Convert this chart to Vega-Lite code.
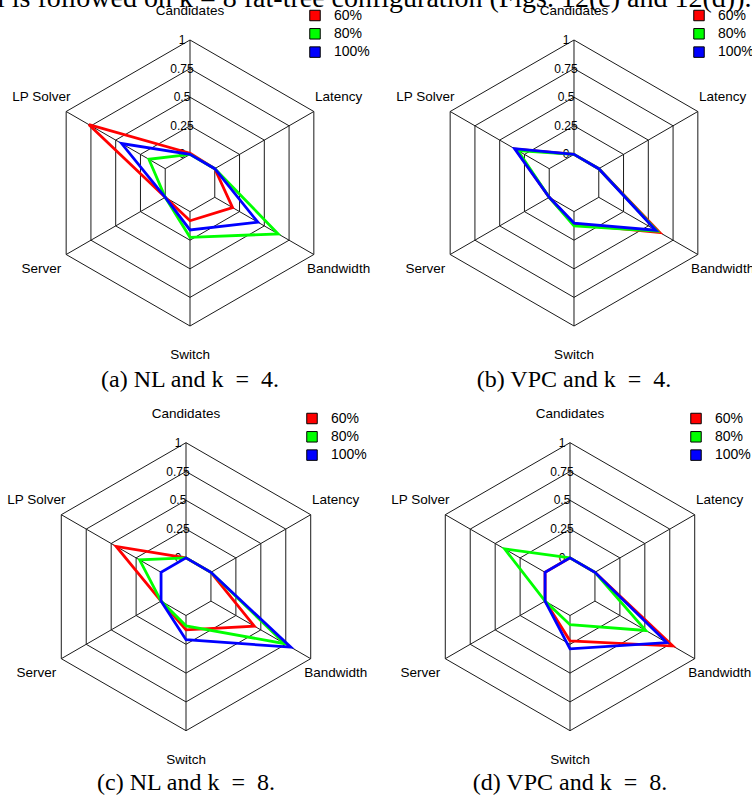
{
  "$schema": "https://vega.github.io/schema/vega-lite/v6.json",
  "padding": 0,
  "bounds": "flush",
  "spacing": 0,
  "columns": 2,
  "config": {
    "view": {"stroke": null},
    "text": {"font": "Liberation Sans", "color": "black"},
    "legend": {
      "orient": "none",
      "symbolType": "square",
      "symbolSize": 110,
      "symbolStrokeWidth": 1,
      "symbolOpacity": 1,
      "labelFont": "Liberation Sans",
      "labelFontSize": 14,
      "labelColor": "black",
      "labelOffset": 12,
      "rowPadding": 2.3,
      "padding": 0
    }
  },
  "resolve": {"scale": {"fill": "independent", "stroke": "independent"}, "legend": {"fill": "independent", "stroke": "independent"}},
  "datasets": {
    "axes": [
      {"axis": "Candidates", "level": [0, 0.25, 0.5, 0.75, 1]},
      {"axis": "Latency", "level": [0, 0.25, 0.5, 0.75, 1]},
      {"axis": "Bandwidth", "level": [0, 0.25, 0.5, 0.75, 1]},
      {"axis": "Switch", "level": [0, 0.25, 0.5, 0.75, 1]},
      {"axis": "Server", "level": [0, 0.25, 0.5, 0.75, 1]},
      {"axis": "LP Solver", "level": [0, 0.25, 0.5, 0.75, 1]}
    ],
    "captions": [
      {"p": "a", "caption": "(a) NL and k\u2002=\u20024."},
      {"p": "b", "caption": "(b) VPC and k\u2002=\u20024."},
      {"p": "c", "caption": "(c) NL and k\u2002=\u20028."},
      {"p": "d", "caption": "(d) VPC and k\u2002=\u20028."}
    ],
    "header": [
      {"text": "l is followed on k = 8 fat-tree configuration (Figs. 12(c) and 12(d))."}
    ],
    "series": [
      {"s": "60%"}, {"s": "80%"}, {"s": "100%"}
    ],
    "scores": [
      {"p": "a", "s": "60%", "a": "Candidates", "v": 0.01},
      {"p": "a", "s": "60%", "a": "Latency", "v": 0},
      {"p": "a", "s": "60%", "a": "Bandwidth", "v": 0.18},
      {"p": "a", "s": "60%", "a": "Switch", "v": 0.08},
      {"p": "a", "s": "60%", "a": "Server", "v": 0},
      {"p": "a", "s": "60%", "a": "LP Solver", "v": 0.77},
      {"p": "a", "s": "80%", "a": "Candidates", "v": 0},
      {"p": "a", "s": "80%", "a": "Latency", "v": 0},
      {"p": "a", "s": "80%", "a": "Bandwidth", "v": 0.64},
      {"p": "a", "s": "80%", "a": "Switch", "v": 0.225},
      {"p": "a", "s": "80%", "a": "Server", "v": 0},
      {"p": "a", "s": "80%", "a": "LP Solver", "v": 0.165},
      {"p": "a", "s": "100%", "a": "Candidates", "v": 0},
      {"p": "a", "s": "100%", "a": "Latency", "v": 0},
      {"p": "a", "s": "100%", "a": "Bandwidth", "v": 0.435},
      {"p": "a", "s": "100%", "a": "Switch", "v": 0.16},
      {"p": "a", "s": "100%", "a": "Server", "v": 0},
      {"p": "a", "s": "100%", "a": "LP Solver", "v": 0.44},
      {"p": "b", "s": "60%", "a": "Candidates", "v": 0},
      {"p": "b", "s": "60%", "a": "Latency", "v": 0},
      {"p": "b", "s": "60%", "a": "Bandwidth", "v": 0.615},
      {"p": "b", "s": "60%", "a": "Switch", "v": 0.11},
      {"p": "b", "s": "60%", "a": "Server", "v": 0},
      {"p": "b", "s": "60%", "a": "LP Solver", "v": 0.34},
      {"p": "b", "s": "80%", "a": "Candidates", "v": 0},
      {"p": "b", "s": "80%", "a": "Latency", "v": 0},
      {"p": "b", "s": "80%", "a": "Bandwidth", "v": 0.59},
      {"p": "b", "s": "80%", "a": "Switch", "v": 0.125},
      {"p": "b", "s": "80%", "a": "Server", "v": 0},
      {"p": "b", "s": "80%", "a": "LP Solver", "v": 0.315},
      {"p": "b", "s": "100%", "a": "Candidates", "v": 0},
      {"p": "b", "s": "100%", "a": "Latency", "v": 0},
      {"p": "b", "s": "100%", "a": "Bandwidth", "v": 0.575},
      {"p": "b", "s": "100%", "a": "Switch", "v": 0.1},
      {"p": "b", "s": "100%", "a": "Server", "v": 0},
      {"p": "b", "s": "100%", "a": "LP Solver", "v": 0.35},
      {"p": "c", "s": "60%", "a": "Candidates", "v": 0},
      {"p": "c", "s": "60%", "a": "Latency", "v": 0},
      {"p": "c", "s": "60%", "a": "Bandwidth", "v": 0.435},
      {"p": "c", "s": "60%", "a": "Switch", "v": 0.125},
      {"p": "c", "s": "60%", "a": "Server", "v": 0},
      {"p": "c", "s": "60%", "a": "LP Solver", "v": 0.45},
      {"p": "c", "s": "80%", "a": "Candidates", "v": 0},
      {"p": "c", "s": "80%", "a": "Latency", "v": 0},
      {"p": "c", "s": "80%", "a": "Bandwidth", "v": 0.74},
      {"p": "c", "s": "80%", "a": "Switch", "v": 0.09},
      {"p": "c", "s": "80%", "a": "Server", "v": 0},
      {"p": "c", "s": "80%", "a": "LP Solver", "v": 0.215},
      {"p": "c", "s": "100%", "a": "Candidates", "v": 0},
      {"p": "c", "s": "100%", "a": "Latency", "v": 0},
      {"p": "c", "s": "100%", "a": "Bandwidth", "v": 0.8},
      {"p": "c", "s": "100%", "a": "Switch", "v": 0.21},
      {"p": "c", "s": "100%", "a": "Server", "v": 0},
      {"p": "c", "s": "100%", "a": "LP Solver", "v": 0},
      {"p": "d", "s": "60%", "a": "Candidates", "v": 0},
      {"p": "d", "s": "60%", "a": "Latency", "v": 0},
      {"p": "d", "s": "60%", "a": "Bandwidth", "v": 0.78},
      {"p": "d", "s": "60%", "a": "Switch", "v": 0.22},
      {"p": "d", "s": "60%", "a": "Server", "v": 0},
      {"p": "d", "s": "60%", "a": "LP Solver", "v": 0},
      {"p": "d", "s": "80%", "a": "Candidates", "v": 0},
      {"p": "d", "s": "80%", "a": "Latency", "v": 0},
      {"p": "d", "s": "80%", "a": "Bandwidth", "v": 0.51},
      {"p": "d", "s": "80%", "a": "Switch", "v": 0.08},
      {"p": "d", "s": "80%", "a": "Server", "v": 0},
      {"p": "d", "s": "80%", "a": "LP Solver", "v": 0.405},
      {"p": "d", "s": "100%", "a": "Candidates", "v": 0},
      {"p": "d", "s": "100%", "a": "Latency", "v": 0},
      {"p": "d", "s": "100%", "a": "Bandwidth", "v": 0.72},
      {"p": "d", "s": "100%", "a": "Switch", "v": 0.29},
      {"p": "d", "s": "100%", "a": "Server", "v": 0},
      {"p": "d", "s": "100%", "a": "LP Solver", "v": 0}
    ]
  },
  "concat": [
    {
      "width": 384,
      "height": 404,
      "layer": [
        {
          "data": {"name": "axes"},
          "transform": [
            {"flatten": ["level"]},
            {"calculate": "indexof(['Candidates','Latency','Bandwidth','Switch','Server','LP Solver'], datum.axis)", "as": "i"},
            {"calculate": "(datum.level + 0.25) / 1.25 * cos(PI / 2 - datum.i * PI / 3)", "as": "x"},
            {"calculate": "(datum.level + 0.25) / 1.25 * sin(PI / 2 - datum.i * PI / 3)", "as": "y"}
          ],
          "mark": {"type": "line", "interpolate": "linear-closed", "color": "#1a1a1a", "strokeWidth": 1},
          "encoding": {
            "x": {"field": "x", "type": "quantitative", "axis": null, "scale": {"domain": [-1.32867, 1.35664], "nice": false, "zero": false}},
            "y": {"field": "y", "type": "quantitative", "axis": null, "scale": {"domain": [-1.54545, 1.27972], "nice": false, "zero": false}},
            "detail": {"field": "level", "type": "nominal"},
            "order": {"field": "i", "type": "quantitative"}
          }
        },
        {
          "data": {"name": "axes"},
          "transform": [
            {"calculate": "indexof(['Candidates','Latency','Bandwidth','Switch','Server','LP Solver'], datum.axis)", "as": "i"},
            {"calculate": "0.2 * cos(PI / 2 - datum.i * PI / 3)", "as": "x"},
            {"calculate": "0.2 * sin(PI / 2 - datum.i * PI / 3)", "as": "y"},
            {"calculate": "cos(PI / 2 - datum.i * PI / 3)", "as": "x2"},
            {"calculate": "sin(PI / 2 - datum.i * PI / 3)", "as": "y2"}
          ],
          "mark": {"type": "rule", "color": "#1a1a1a", "strokeWidth": 1},
          "encoding": {
            "x": {"field": "x", "type": "quantitative"},
            "y": {"field": "y", "type": "quantitative"},
            "x2": {"field": "x2"},
            "y2": {"field": "y2"}
          }
        },
        {
          "data": {"name": "axes"},
          "transform": [
            {"filter": "datum.axis === 'Candidates'"},
            {"flatten": ["level"]},
            {"calculate": "0", "as": "x"},
            {"calculate": "(datum.level + 0.25) / 1.25", "as": "y"}
          ],
          "mark": {"type": "text", "fontSize": 12, "align": "center", "baseline": "middle", "dx": -8},
          "encoding": {
            "x": {"field": "x", "type": "quantitative"},
            "y": {"field": "y", "type": "quantitative"},
            "text": {"field": "level", "type": "nominal"}
          }
        },
        {
          "data": {"name": "axes"},
          "transform": [
            {"calculate": "indexof(['Candidates','Latency','Bandwidth','Switch','Server','LP Solver'], datum.axis)", "as": "i"},
            {"calculate": "1.2 * cos(PI / 2 - datum.i * PI / 3)", "as": "x"},
            {"calculate": "1.2 * sin(PI / 2 - datum.i * PI / 3)", "as": "y"}
          ],
          "mark": {"type": "text", "fontSize": 13.5, "align": "center", "baseline": "middle"},
          "encoding": {
            "x": {"field": "x", "type": "quantitative"},
            "y": {"field": "y", "type": "quantitative"},
            "text": {"field": "axis", "type": "nominal"}
          }
        },
        {
          "data": {"name": "scores"},
          "transform": [
            {"filter": "datum.p === 'a'"},
            {"calculate": "indexof(['Candidates','Latency','Bandwidth','Switch','Server','LP Solver'], datum.a)", "as": "i"},
            {"calculate": "(datum.v + 0.25) / 1.25 * cos(PI / 2 - datum.i * PI / 3)", "as": "x"},
            {"calculate": "(datum.v + 0.25) / 1.25 * sin(PI / 2 - datum.i * PI / 3)", "as": "y"}
          ],
          "mark": {"type": "line", "interpolate": "linear-closed", "strokeWidth": 2.8},
          "encoding": {
            "x": {"field": "x", "type": "quantitative"},
            "y": {"field": "y", "type": "quantitative"},
            "stroke": {"field": "s", "type": "nominal", "scale": {"domain": ["100%", "60%", "80%"], "range": ["#0000ff", "#ff0000", "#00ff00"]}, "legend": null},
            "order": {"field": "i", "type": "quantitative"}
          }
        },
        {
          "data": {"name": "series"},
          "transform": [{"filter": "datum.s === 'none'"}],
          "mark": {"type": "square", "filled": true, "opacity": 1, "stroke": "black", "strokeWidth": 1},
          "encoding": {
            "fill": {"field": "s", "type": "nominal", "scale": {"domain": ["60%", "80%", "100%"], "range": ["#ff0000", "#00ff00", "#0000ff"]}, "legend": {"title": null, "legendX": 308, "legendY": 8.5}}
          }
        },
        {
          "data": {"name": "captions"},
          "transform": [{"filter": "datum.p === 'a'"}],
          "mark": {"type": "text", "font": "Liberation Serif", "fontSize": 24, "align": "center", "baseline": "alphabetic"},
          "encoding": {
            "x": {"datum": 0, "type": "quantitative"},
            "y": {"datum": -1.42448, "type": "quantitative"},
            "text": {"field": "caption", "type": "nominal"}
          }
        },
        {
          "data": {"name": "header"},
          "mark": {"type": "text", "font": "Liberation Serif", "fontSize": 28, "align": "left", "baseline": "alphabetic", "clip": true},
          "encoding": {
            "x": {"datum": -1.34965, "type": "quantitative"},
            "y": {"datum": 1.23077, "type": "quantitative"},
            "text": {"field": "text", "type": "nominal"}
          }
        }
      ]
    },
    {
      "width": 368,
      "height": 404,
      "layer": [
        {
          "data": {"name": "axes"},
          "transform": [
            {"flatten": ["level"]},
            {"calculate": "indexof(['Candidates','Latency','Bandwidth','Switch','Server','LP Solver'], datum.axis)", "as": "i"},
            {"calculate": "(datum.level + 0.25) / 1.25 * cos(PI / 2 - datum.i * PI / 3)", "as": "x"},
            {"calculate": "(datum.level + 0.25) / 1.25 * sin(PI / 2 - datum.i * PI / 3)", "as": "y"}
          ],
          "mark": {"type": "line", "interpolate": "linear-closed", "color": "#1a1a1a", "strokeWidth": 1},
          "encoding": {
            "x": {"field": "x", "type": "quantitative", "axis": null, "scale": {"domain": [-1.32867, 1.24476], "nice": false, "zero": false}},
            "y": {"field": "y", "type": "quantitative", "axis": null, "scale": {"domain": [-1.54545, 1.27972], "nice": false, "zero": false}},
            "detail": {"field": "level", "type": "nominal"},
            "order": {"field": "i", "type": "quantitative"}
          }
        },
        {
          "data": {"name": "axes"},
          "transform": [
            {"calculate": "indexof(['Candidates','Latency','Bandwidth','Switch','Server','LP Solver'], datum.axis)", "as": "i"},
            {"calculate": "0.2 * cos(PI / 2 - datum.i * PI / 3)", "as": "x"},
            {"calculate": "0.2 * sin(PI / 2 - datum.i * PI / 3)", "as": "y"},
            {"calculate": "cos(PI / 2 - datum.i * PI / 3)", "as": "x2"},
            {"calculate": "sin(PI / 2 - datum.i * PI / 3)", "as": "y2"}
          ],
          "mark": {"type": "rule", "color": "#1a1a1a", "strokeWidth": 1},
          "encoding": {
            "x": {"field": "x", "type": "quantitative"},
            "y": {"field": "y", "type": "quantitative"},
            "x2": {"field": "x2"},
            "y2": {"field": "y2"}
          }
        },
        {
          "data": {"name": "axes"},
          "transform": [
            {"filter": "datum.axis === 'Candidates'"},
            {"flatten": ["level"]},
            {"calculate": "0", "as": "x"},
            {"calculate": "(datum.level + 0.25) / 1.25", "as": "y"}
          ],
          "mark": {"type": "text", "fontSize": 12, "align": "center", "baseline": "middle", "dx": -8},
          "encoding": {
            "x": {"field": "x", "type": "quantitative"},
            "y": {"field": "y", "type": "quantitative"},
            "text": {"field": "level", "type": "nominal"}
          }
        },
        {
          "data": {"name": "axes"},
          "transform": [
            {"calculate": "indexof(['Candidates','Latency','Bandwidth','Switch','Server','LP Solver'], datum.axis)", "as": "i"},
            {"calculate": "1.2 * cos(PI / 2 - datum.i * PI / 3)", "as": "x"},
            {"calculate": "1.2 * sin(PI / 2 - datum.i * PI / 3)", "as": "y"}
          ],
          "mark": {"type": "text", "fontSize": 13.5, "align": "center", "baseline": "middle", "clip": true},
          "encoding": {
            "x": {"field": "x", "type": "quantitative"},
            "y": {"field": "y", "type": "quantitative"},
            "text": {"field": "axis", "type": "nominal"}
          }
        },
        {
          "data": {"name": "scores"},
          "transform": [
            {"filter": "datum.p === 'b'"},
            {"calculate": "indexof(['Candidates','Latency','Bandwidth','Switch','Server','LP Solver'], datum.a)", "as": "i"},
            {"calculate": "(datum.v + 0.25) / 1.25 * cos(PI / 2 - datum.i * PI / 3)", "as": "x"},
            {"calculate": "(datum.v + 0.25) / 1.25 * sin(PI / 2 - datum.i * PI / 3)", "as": "y"}
          ],
          "mark": {"type": "line", "interpolate": "linear-closed", "strokeWidth": 2.8},
          "encoding": {
            "x": {"field": "x", "type": "quantitative"},
            "y": {"field": "y", "type": "quantitative"},
            "stroke": {"field": "s", "type": "nominal", "scale": {"domain": ["100%", "60%", "80%"], "range": ["#0000ff", "#ff0000", "#00ff00"]}, "legend": null},
            "order": {"field": "i", "type": "quantitative"}
          }
        },
        {
          "data": {"name": "series"},
          "transform": [{"filter": "datum.s === 'none'"}],
          "mark": {"type": "square", "filled": true, "opacity": 1, "stroke": "black", "strokeWidth": 1},
          "encoding": {
            "fill": {"field": "s", "type": "nominal", "scale": {"domain": ["60%", "80%", "100%"], "range": ["#ff0000", "#00ff00", "#0000ff"]}, "legend": {"title": null, "legendX": 308, "legendY": 8.5}}
          }
        },
        {
          "data": {"name": "captions"},
          "transform": [{"filter": "datum.p === 'b'"}],
          "mark": {"type": "text", "font": "Liberation Serif", "fontSize": 24, "align": "center", "baseline": "alphabetic"},
          "encoding": {
            "x": {"datum": 0, "type": "quantitative"},
            "y": {"datum": -1.42448, "type": "quantitative"},
            "text": {"field": "caption", "type": "nominal"}
          }
        },
        {
          "data": {"name": "header"},
          "mark": {"type": "text", "font": "Liberation Serif", "fontSize": 28, "align": "left", "baseline": "alphabetic", "clip": true},
          "encoding": {
            "x": {"datum": -4.03497, "type": "quantitative"},
            "y": {"datum": 1.23077, "type": "quantitative"},
            "text": {"field": "text", "type": "nominal"}
          }
        }
      ]
    },
    {
      "width": 384,
      "height": 394,
      "layer": [
        {
          "data": {"name": "axes"},
          "transform": [
            {"flatten": ["level"]},
            {"calculate": "indexof(['Candidates','Latency','Bandwidth','Switch','Server','LP Solver'], datum.axis)", "as": "i"},
            {"calculate": "(datum.level + 0.25) / 1.25 * cos(PI / 2 - datum.i * PI / 3)", "as": "x"},
            {"calculate": "(datum.level + 0.25) / 1.25 * sin(PI / 2 - datum.i * PI / 3)", "as": "y"}
          ],
          "mark": {"type": "line", "interpolate": "linear-closed", "color": "#1a1a1a", "strokeWidth": 1},
          "encoding": {
            "x": {"field": "x", "type": "quantitative", "axis": null, "scale": {"domain": [-1.29167, 1.375], "nice": false, "zero": false}},
            "y": {"field": "y", "type": "quantitative", "axis": null, "scale": {"domain": [-1.46736, 1.26875], "nice": false, "zero": false}},
            "detail": {"field": "level", "type": "nominal"},
            "order": {"field": "i", "type": "quantitative"}
          }
        },
        {
          "data": {"name": "axes"},
          "transform": [
            {"calculate": "indexof(['Candidates','Latency','Bandwidth','Switch','Server','LP Solver'], datum.axis)", "as": "i"},
            {"calculate": "0.2 * cos(PI / 2 - datum.i * PI / 3)", "as": "x"},
            {"calculate": "0.2 * sin(PI / 2 - datum.i * PI / 3)", "as": "y"},
            {"calculate": "cos(PI / 2 - datum.i * PI / 3)", "as": "x2"},
            {"calculate": "sin(PI / 2 - datum.i * PI / 3)", "as": "y2"}
          ],
          "mark": {"type": "rule", "color": "#1a1a1a", "strokeWidth": 1},
          "encoding": {
            "x": {"field": "x", "type": "quantitative"},
            "y": {"field": "y", "type": "quantitative"},
            "x2": {"field": "x2"},
            "y2": {"field": "y2"}
          }
        },
        {
          "data": {"name": "axes"},
          "transform": [
            {"filter": "datum.axis === 'Candidates'"},
            {"flatten": ["level"]},
            {"calculate": "0", "as": "x"},
            {"calculate": "(datum.level + 0.25) / 1.25", "as": "y"}
          ],
          "mark": {"type": "text", "fontSize": 12, "align": "center", "baseline": "middle", "dx": -8},
          "encoding": {
            "x": {"field": "x", "type": "quantitative"},
            "y": {"field": "y", "type": "quantitative"},
            "text": {"field": "level", "type": "nominal"}
          }
        },
        {
          "data": {"name": "axes"},
          "transform": [
            {"calculate": "indexof(['Candidates','Latency','Bandwidth','Switch','Server','LP Solver'], datum.axis)", "as": "i"},
            {"calculate": "1.2 * cos(PI / 2 - datum.i * PI / 3)", "as": "x"},
            {"calculate": "1.2 * sin(PI / 2 - datum.i * PI / 3)", "as": "y"}
          ],
          "mark": {"type": "text", "fontSize": 13.5, "align": "center", "baseline": "middle"},
          "encoding": {
            "x": {"field": "x", "type": "quantitative"},
            "y": {"field": "y", "type": "quantitative"},
            "text": {"field": "axis", "type": "nominal"}
          }
        },
        {
          "data": {"name": "scores"},
          "transform": [
            {"filter": "datum.p === 'c'"},
            {"calculate": "indexof(['Candidates','Latency','Bandwidth','Switch','Server','LP Solver'], datum.a)", "as": "i"},
            {"calculate": "(datum.v + 0.25) / 1.25 * cos(PI / 2 - datum.i * PI / 3)", "as": "x"},
            {"calculate": "(datum.v + 0.25) / 1.25 * sin(PI / 2 - datum.i * PI / 3)", "as": "y"}
          ],
          "mark": {"type": "line", "interpolate": "linear-closed", "strokeWidth": 2.8},
          "encoding": {
            "x": {"field": "x", "type": "quantitative"},
            "y": {"field": "y", "type": "quantitative"},
            "stroke": {"field": "s", "type": "nominal", "scale": {"domain": ["100%", "60%", "80%"], "range": ["#0000ff", "#ff0000", "#00ff00"]}, "legend": null},
            "order": {"field": "i", "type": "quantitative"}
          }
        },
        {
          "data": {"name": "series"},
          "transform": [{"filter": "datum.s === 'none'"}],
          "mark": {"type": "square", "filled": true, "opacity": 1, "stroke": "black", "strokeWidth": 1},
          "encoding": {
            "fill": {"field": "s", "type": "nominal", "scale": {"domain": ["60%", "80%", "100%"], "range": ["#ff0000", "#00ff00", "#0000ff"]}, "legend": {"title": null, "legendX": 305, "legendY": 7.5}}
          }
        },
        {
          "data": {"name": "captions"},
          "transform": [{"filter": "datum.p === 'c'"}],
          "mark": {"type": "text", "font": "Liberation Serif", "fontSize": 24, "align": "center", "baseline": "alphabetic"},
          "encoding": {
            "x": {"datum": 0, "type": "quantitative"},
            "y": {"datum": -1.41181, "type": "quantitative"},
            "text": {"field": "caption", "type": "nominal"}
          }
        }
      ]
    },
    {
      "width": 368,
      "height": 394,
      "layer": [
        {
          "data": {"name": "axes"},
          "transform": [
            {"flatten": ["level"]},
            {"calculate": "indexof(['Candidates','Latency','Bandwidth','Switch','Server','LP Solver'], datum.axis)", "as": "i"},
            {"calculate": "(datum.level + 0.25) / 1.25 * cos(PI / 2 - datum.i * PI / 3)", "as": "x"},
            {"calculate": "(datum.level + 0.25) / 1.25 * sin(PI / 2 - datum.i * PI / 3)", "as": "y"}
          ],
          "mark": {"type": "line", "interpolate": "linear-closed", "color": "#1a1a1a", "strokeWidth": 1},
          "encoding": {
            "x": {"field": "x", "type": "quantitative", "axis": null, "scale": {"domain": [-1.29167, 1.26389], "nice": false, "zero": false}},
            "y": {"field": "y", "type": "quantitative", "axis": null, "scale": {"domain": [-1.46736, 1.26875], "nice": false, "zero": false}},
            "detail": {"field": "level", "type": "nominal"},
            "order": {"field": "i", "type": "quantitative"}
          }
        },
        {
          "data": {"name": "axes"},
          "transform": [
            {"calculate": "indexof(['Candidates','Latency','Bandwidth','Switch','Server','LP Solver'], datum.axis)", "as": "i"},
            {"calculate": "0.2 * cos(PI / 2 - datum.i * PI / 3)", "as": "x"},
            {"calculate": "0.2 * sin(PI / 2 - datum.i * PI / 3)", "as": "y"},
            {"calculate": "cos(PI / 2 - datum.i * PI / 3)", "as": "x2"},
            {"calculate": "sin(PI / 2 - datum.i * PI / 3)", "as": "y2"}
          ],
          "mark": {"type": "rule", "color": "#1a1a1a", "strokeWidth": 1},
          "encoding": {
            "x": {"field": "x", "type": "quantitative"},
            "y": {"field": "y", "type": "quantitative"},
            "x2": {"field": "x2"},
            "y2": {"field": "y2"}
          }
        },
        {
          "data": {"name": "axes"},
          "transform": [
            {"filter": "datum.axis === 'Candidates'"},
            {"flatten": ["level"]},
            {"calculate": "0", "as": "x"},
            {"calculate": "(datum.level + 0.25) / 1.25", "as": "y"}
          ],
          "mark": {"type": "text", "fontSize": 12, "align": "center", "baseline": "middle", "dx": -8},
          "encoding": {
            "x": {"field": "x", "type": "quantitative"},
            "y": {"field": "y", "type": "quantitative"},
            "text": {"field": "level", "type": "nominal"}
          }
        },
        {
          "data": {"name": "axes"},
          "transform": [
            {"calculate": "indexof(['Candidates','Latency','Bandwidth','Switch','Server','LP Solver'], datum.axis)", "as": "i"},
            {"calculate": "1.2 * cos(PI / 2 - datum.i * PI / 3)", "as": "x"},
            {"calculate": "1.2 * sin(PI / 2 - datum.i * PI / 3)", "as": "y"}
          ],
          "mark": {"type": "text", "fontSize": 13.5, "align": "center", "baseline": "middle", "clip": true},
          "encoding": {
            "x": {"field": "x", "type": "quantitative"},
            "y": {"field": "y", "type": "quantitative"},
            "text": {"field": "axis", "type": "nominal"}
          }
        },
        {
          "data": {"name": "scores"},
          "transform": [
            {"filter": "datum.p === 'd'"},
            {"calculate": "indexof(['Candidates','Latency','Bandwidth','Switch','Server','LP Solver'], datum.a)", "as": "i"},
            {"calculate": "(datum.v + 0.25) / 1.25 * cos(PI / 2 - datum.i * PI / 3)", "as": "x"},
            {"calculate": "(datum.v + 0.25) / 1.25 * sin(PI / 2 - datum.i * PI / 3)", "as": "y"}
          ],
          "mark": {"type": "line", "interpolate": "linear-closed", "strokeWidth": 2.8},
          "encoding": {
            "x": {"field": "x", "type": "quantitative"},
            "y": {"field": "y", "type": "quantitative"},
            "stroke": {"field": "s", "type": "nominal", "scale": {"domain": ["100%", "60%", "80%"], "range": ["#0000ff", "#ff0000", "#00ff00"]}, "legend": null},
            "order": {"field": "i", "type": "quantitative"}
          }
        },
        {
          "data": {"name": "series"},
          "transform": [{"filter": "datum.s === 'none'"}],
          "mark": {"type": "square", "filled": true, "opacity": 1, "stroke": "black", "strokeWidth": 1},
          "encoding": {
            "fill": {"field": "s", "type": "nominal", "scale": {"domain": ["60%", "80%", "100%"], "range": ["#ff0000", "#00ff00", "#0000ff"]}, "legend": {"title": null, "legendX": 305, "legendY": 7.5}}
          }
        },
        {
          "data": {"name": "captions"},
          "transform": [{"filter": "datum.p === 'd'"}],
          "mark": {"type": "text", "font": "Liberation Serif", "fontSize": 24, "align": "center", "baseline": "alphabetic"},
          "encoding": {
            "x": {"datum": 0, "type": "quantitative"},
            "y": {"datum": -1.41181, "type": "quantitative"},
            "text": {"field": "caption", "type": "nominal"}
          }
        }
      ]
    }
  ]
}
